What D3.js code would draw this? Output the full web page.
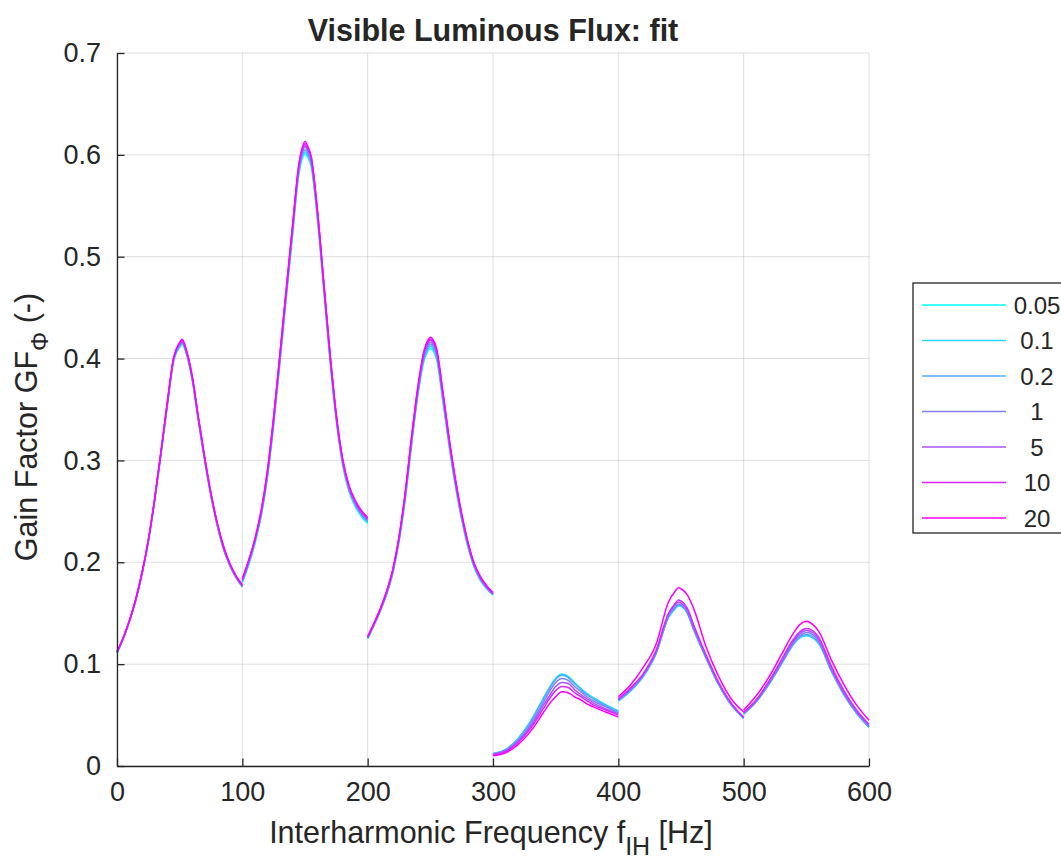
<!DOCTYPE html>
<html>
<head>
<meta charset="utf-8">
<script src="https://cdn.jsdelivr.net/npm/d3@7"></script>
<style>
body { margin: 0; background: #fff; }
text { font-family: "Liberation Sans", Arial, Helvetica, sans-serif; fill: #262626; }
</style>
</head>
<body>
<div id="container"></div>
<script>
// frequencies of the six fitted segments [Hz]
const segFreqs = [
    [0,5,10,15,20,25,30,35,40,45,50,52,55,60,65,70,75,80,85,90,95,100],
    [100,105,110,115,120,125,130,135,140,145,148,150,152,155,160,165,170,175,180,185,190,195,200],
    [200,205,210,215,220,225,230,235,240,245,248,250,252,255,260,265,270,275,280,285,290,295,300],
    [300,310,320,330,340,345,350,355,360,365,370,375,380,390,400],
    [400,410,420,430,440,445,448,450,455,460,470,480,490,500],
    [500,510,520,530,540,545,550,555,560,570,580,590,600]
];

const legendLabels = ["0.05", "0.1", "0.2", "1", "5", "10", "20"];
const lineColors = ["rgb(0,255,255)", "rgb(42,213,255)", "rgb(85,170,255)", "rgb(128,128,255)",
                    "rgb(170,85,255)", "rgb(213,42,255)", "rgb(255,0,255)"];

const xTicks = [0, 100, 200, 300, 400, 500, 600];
const yTicks = [0, 0.1, 0.2, 0.3, 0.4, 0.5, 0.6, 0.7];
const yTickLabels = ["0", "0.1", "0.2", "0.3", "0.4", "0.5", "0.6", "0.7"];

// gain factor per series, one array per segment
const gf_005 = [
    [0.111,0.125,0.142,0.163,0.189,0.220,0.260,0.305,0.352,0.396,0.411,0.414,0.406,0.379,0.338,0.299,0.265,0.236,0.213,0.197,0.185,0.176],
    [0.180,0.197,0.218,0.245,0.283,0.335,0.396,0.459,0.520,0.580,0.597,0.601,0.598,0.588,0.536,0.467,0.398,0.339,0.296,0.270,0.255,0.245,0.238],
    [0.125,0.138,0.152,0.168,0.189,0.220,0.262,0.315,0.363,0.398,0.407,0.410,0.408,0.399,0.358,0.314,0.275,0.242,0.215,0.195,0.182,0.174,0.168],
    [0.012,0.016,0.027,0.044,0.066,0.077,0.086,0.090,0.088,0.082,0.076,0.071,0.067,0.060,0.054],
    [0.064,0.074,0.088,0.110,0.146,0.154,0.157,0.157,0.150,0.134,0.106,0.080,0.060,0.047],
    [0.051,0.063,0.080,0.100,0.120,0.126,0.128,0.126,0.120,0.094,0.070,0.052,0.038]
];
const gf_01 = [
    [0.111,0.125,0.142,0.163,0.189,0.220,0.260,0.306,0.353,0.397,0.412,0.415,0.407,0.380,0.339,0.300,0.265,0.236,0.213,0.197,0.185,0.176],
    [0.181,0.198,0.219,0.246,0.284,0.337,0.398,0.461,0.522,0.582,0.599,0.603,0.600,0.590,0.538,0.469,0.399,0.340,0.297,0.271,0.256,0.246,0.239],
    [0.125,0.138,0.152,0.168,0.190,0.221,0.263,0.316,0.365,0.400,0.409,0.412,0.410,0.401,0.360,0.315,0.276,0.243,0.216,0.196,0.183,0.174,0.168],
    [0.012,0.016,0.027,0.044,0.066,0.077,0.086,0.090,0.087,0.081,0.076,0.071,0.067,0.060,0.054],
    [0.064,0.074,0.088,0.110,0.146,0.154,0.158,0.157,0.150,0.134,0.106,0.080,0.060,0.047],
    [0.051,0.063,0.080,0.100,0.120,0.126,0.128,0.126,0.120,0.093,0.070,0.052,0.038]
];
const gf_02 = [
    [0.111,0.125,0.142,0.163,0.189,0.221,0.261,0.306,0.353,0.397,0.413,0.415,0.407,0.380,0.339,0.300,0.266,0.237,0.213,0.197,0.185,0.176],
    [0.181,0.199,0.220,0.247,0.285,0.338,0.399,0.462,0.524,0.584,0.601,0.605,0.602,0.592,0.539,0.470,0.400,0.341,0.298,0.272,0.257,0.247,0.240],
    [0.126,0.139,0.153,0.169,0.190,0.222,0.265,0.318,0.366,0.401,0.411,0.414,0.412,0.403,0.362,0.317,0.278,0.244,0.217,0.196,0.183,0.175,0.169],
    [0.012,0.016,0.026,0.043,0.065,0.076,0.085,0.089,0.087,0.081,0.075,0.070,0.066,0.059,0.053],
    [0.064,0.075,0.089,0.111,0.147,0.155,0.158,0.158,0.151,0.135,0.106,0.080,0.060,0.047],
    [0.051,0.063,0.080,0.100,0.120,0.127,0.129,0.127,0.121,0.093,0.070,0.052,0.038]
];
const gf_1 = [
    [0.112,0.126,0.143,0.163,0.189,0.221,0.261,0.307,0.354,0.398,0.414,0.416,0.408,0.381,0.340,0.301,0.266,0.237,0.214,0.198,0.186,0.177],
    [0.182,0.200,0.221,0.248,0.287,0.339,0.401,0.464,0.526,0.586,0.603,0.608,0.604,0.594,0.541,0.471,0.402,0.342,0.299,0.273,0.258,0.248,0.241],
    [0.126,0.139,0.153,0.169,0.191,0.223,0.266,0.319,0.368,0.403,0.413,0.416,0.414,0.405,0.363,0.318,0.279,0.245,0.218,0.197,0.184,0.175,0.169],
    [0.012,0.015,0.025,0.041,0.062,0.073,0.082,0.086,0.084,0.078,0.073,0.068,0.064,0.058,0.052],
    [0.065,0.075,0.089,0.111,0.147,0.156,0.159,0.158,0.151,0.135,0.107,0.081,0.061,0.047],
    [0.052,0.064,0.081,0.101,0.122,0.128,0.131,0.129,0.122,0.094,0.071,0.053,0.039]
];
const gf_5 = [
    [0.112,0.126,0.143,0.164,0.190,0.221,0.261,0.307,0.355,0.399,0.414,0.417,0.409,0.382,0.341,0.302,0.267,0.238,0.215,0.198,0.186,0.177],
    [0.183,0.201,0.222,0.249,0.288,0.341,0.402,0.465,0.527,0.587,0.605,0.609,0.606,0.595,0.542,0.473,0.403,0.343,0.300,0.274,0.259,0.249,0.242],
    [0.126,0.139,0.153,0.170,0.192,0.224,0.267,0.321,0.369,0.405,0.415,0.418,0.416,0.407,0.365,0.320,0.280,0.246,0.219,0.198,0.185,0.176,0.169],
    [0.011,0.015,0.024,0.039,0.059,0.069,0.078,0.082,0.081,0.075,0.070,0.066,0.062,0.056,0.051],
    [0.065,0.076,0.090,0.112,0.149,0.158,0.161,0.160,0.153,0.137,0.108,0.082,0.061,0.048],
    [0.052,0.064,0.082,0.102,0.123,0.130,0.133,0.131,0.124,0.096,0.072,0.054,0.040]
];
const gf_10 = [
    [0.112,0.126,0.143,0.164,0.190,0.222,0.262,0.308,0.355,0.399,0.415,0.418,0.409,0.382,0.341,0.302,0.267,0.238,0.215,0.198,0.186,0.177],
    [0.183,0.201,0.222,0.250,0.289,0.342,0.404,0.467,0.529,0.589,0.606,0.611,0.607,0.597,0.544,0.474,0.404,0.344,0.301,0.275,0.260,0.250,0.243],
    [0.127,0.140,0.154,0.171,0.192,0.224,0.268,0.322,0.371,0.406,0.416,0.419,0.417,0.408,0.366,0.321,0.281,0.247,0.219,0.198,0.185,0.176,0.170],
    [0.011,0.014,0.023,0.037,0.056,0.066,0.074,0.078,0.077,0.072,0.068,0.064,0.060,0.055,0.050],
    [0.066,0.077,0.091,0.113,0.150,0.159,0.163,0.162,0.155,0.139,0.109,0.082,0.062,0.048],
    [0.053,0.065,0.083,0.104,0.125,0.132,0.135,0.133,0.126,0.098,0.074,0.055,0.041]
];
const gf_20 = [
    [0.112,0.126,0.143,0.164,0.190,0.222,0.262,0.308,0.356,0.400,0.416,0.419,0.410,0.383,0.342,0.303,0.268,0.239,0.216,0.199,0.187,0.178],
    [0.184,0.202,0.223,0.251,0.290,0.343,0.405,0.468,0.530,0.590,0.608,0.613,0.609,0.598,0.545,0.475,0.405,0.345,0.302,0.276,0.261,0.251,0.244],
    [0.127,0.140,0.154,0.171,0.193,0.225,0.269,0.323,0.372,0.408,0.418,0.421,0.419,0.410,0.368,0.322,0.282,0.248,0.220,0.199,0.186,0.177,0.170],
    [0.010,0.013,0.021,0.034,0.052,0.061,0.068,0.073,0.072,0.068,0.065,0.061,0.058,0.053,0.048],
    [0.068,0.080,0.097,0.119,0.161,0.171,0.175,0.174,0.168,0.155,0.117,0.088,0.066,0.053],
    [0.055,0.069,0.087,0.109,0.131,0.139,0.142,0.139,0.132,0.104,0.080,0.060,0.045]
];

const seriesValues = [gf_005, gf_01, gf_02, gf_1, gf_5, gf_10, gf_20];

const width = 1061;
const height = 859;
const plotLeft = 117, plotRight = 869, plotTop = 53, plotBottom = 766;
const axisColor = "#262626";

const svg = d3.select("div#container").append("svg")
    .attr("width", width)
    .attr("height", height);

const xScale = d3.scaleLinear().domain([0, 600]).range([plotLeft, plotRight]);
const yScale = d3.scaleLinear().domain([0, 0.7]).range([plotBottom, plotTop]);

// grid
const grid = svg.append("g")
    .attr("stroke", axisColor)
    .attr("stroke-opacity", 0.15)
    .attr("stroke-width", 1);

grid.selectAll("line.vx").data(xTicks).enter().append("line")
    .attr("x1", d => xScale(d)).attr("x2", d => xScale(d))
    .attr("y1", plotTop).attr("y2", plotBottom);

grid.selectAll("line.hy").data(yTicks).enter().append("line")
    .attr("x1", plotLeft).attr("x2", plotRight)
    .attr("y1", d => yScale(d)).attr("y2", d => yScale(d));

// data lines
const line = d3.line()
    .x(d => xScale(d[0]))
    .y(d => yScale(d[1]))
    .curve(d3.curveMonotoneX);

seriesValues.forEach(function(segs, i) {
    segs.forEach(function(vals, j) {
        svg.append("path")
            .datum(d3.zip(segFreqs[j], vals))
            .attr("d", line)
            .attr("fill", "none")
            .attr("stroke", lineColors[i])
            .attr("stroke-width", 1.5);
    });
});

// axes
const xaxis = d3.axisBottom(xScale)
    .tickValues(xTicks)
    .tickSizeInner(-7.5)
    .tickSizeOuter(0)
    .tickPadding(16);

const yaxis = d3.axisLeft(yScale)
    .tickValues(yTicks)
    .tickFormat((d, i) => yTickLabels[i])
    .tickSizeInner(-7.5)
    .tickSizeOuter(0)
    .tickPadding(16);

function styleAxis(g) {
    g.attr("font-size", 27).attr("font-family", null);
    g.select(".domain").attr("stroke", axisColor).attr("stroke-width", 1.3);
    g.selectAll(".tick line").attr("stroke", axisColor).attr("stroke-width", 1.3);
}

svg.append("g")
    .attr("transform", "translate(0," + plotBottom + ")")
    .call(xaxis)
    .call(styleAxis);

svg.append("g")
    .attr("transform", "translate(" + plotLeft + ",0)")
    .call(yaxis)
    .call(styleAxis);

// title and labels
svg.append("text")
    .attr("x", (plotLeft + plotRight) / 2)
    .attr("y", 41)
    .attr("text-anchor", "middle")
    .attr("font-size", 30.5)
    .attr("font-weight", "bold")
    .text("Visible Luminous Flux: fit");

const xlab = svg.append("text")
    .attr("x", (plotLeft + plotRight) / 2 - 2)
    .attr("y", 843)
    .attr("text-anchor", "middle")
    .attr("font-size", 30.5);
xlab.append("tspan").text("Interharmonic Frequency f");
xlab.append("tspan").attr("font-size", 25).attr("dy", 12).text("IH");
xlab.append("tspan").attr("dy", -12).text(" [Hz]");

const ylab = svg.append("text")
    .attr("transform", "translate(37,427) rotate(-90)")
    .attr("text-anchor", "middle")
    .attr("font-size", 30.5);
ylab.append("tspan").text("Gain Factor GF");
ylab.append("tspan").attr("font-size", 24).attr("dy", 11).text("\u03A6");
ylab.append("tspan").attr("dy", -11).text(" (-)");

// legend
const legend = svg.append("g");
legend.append("rect")
    .attr("x", 913).attr("y", 283)
    .attr("width", 200).attr("height", 250)
    .attr("fill", "white")
    .attr("stroke", axisColor)
    .attr("stroke-width", 1.3);

legendLabels.forEach(function(lab, i) {
    const ly = 305 + i * 35.5;
    legend.append("line")
        .attr("x1", 922).attr("x2", 1006)
        .attr("y1", ly).attr("y2", ly)
        .attr("stroke", lineColors[i])
        .attr("stroke-width", 1.5);
    legend.append("text")
        .attr("x", 1037).attr("y", ly)
        .attr("dy", "0.36em")
        .attr("text-anchor", "middle")
        .attr("font-size", 24)
        .text(lab);
});
</script>
</body>
</html>
